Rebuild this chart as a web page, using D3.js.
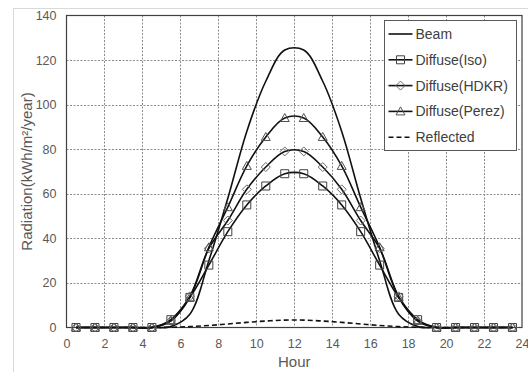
<!DOCTYPE html>
<html>
<head>
<meta charset="utf-8">
<script src="https://cdn.jsdelivr.net/npm/d3@7"></script>
<style>
  body { margin: 0; background: #fff; }
  text { font-family: "Liberation Sans", Arial, sans-serif; }
</style>
</head>
<body>
<svg id="chart"></svg>
<script>
const hours = [0.5, 1.5, 2.5, 3.5, 4.5, 5.5, 6.5, 7.5, 8.5, 9.5, 10.5, 11.5,
  12.5, 13.5, 14.5, 15.5, 16.5, 17.5, 18.5, 19.5, 20.5, 21.5, 22.5, 23.5];
const beam = [0, 0, 0, 0, 0, 0.5, 6, 30, 58, 88, 110.5, 124.5,
  124.5, 110.5, 88, 58, 30, 6, 0.5, 0, 0, 0, 0, 0];
const diffuseIso = [0, 0, 0, 0, 0, 3.5, 13.5, 28, 43, 55, 63.5, 69,
  69, 63.5, 55, 43, 28, 13.5, 3.5, 0, 0, 0, 0, 0];
const diffuseHDKR = [0, 0, 0, 0, 0, 3, 14, 35.5, 48, 62, 72, 79,
  79, 72, 62, 48, 35.5, 14, 3, 0, 0, 0, 0, 0];
const diffusePerez = [0, 0, 0, 0, 0, 3, 13.5, 36, 54, 72.5, 85.5, 94,
  94, 85.5, 72.5, 54, 36, 13.5, 3, 0, 0, 0, 0, 0];
const reflected = [0, 0, 0, 0, 0, 0.1, 0.4, 0.9, 1.6, 2.3, 2.9, 3.3,
  3.3, 2.9, 2.3, 1.6, 0.9, 0.4, 0.1, 0, 0, 0, 0, 0];

const xTicks = [0, 2, 4, 6, 8, 10, 12, 14, 16, 18, 20, 22, 24];
const yTicks = [0, 20, 40, 60, 80, 100, 120, 140];

const seriesNames = ["Beam", "Diffuse(Iso)", "Diffuse(HDKR)", "Diffuse(Perez)", "Reflected"];

const WIDTH = 528;
const HEIGHT = 372;
const margin = { top: 15.5, right: 6, bottom: 44.5, left: 66.5 };

const PLOT_LEFT = margin.left;
const PLOT_RIGHT = WIDTH - margin.right;
const PLOT_TOP = margin.top;
const PLOT_BOTTOM = HEIGHT - margin.bottom;

const INK = "#404040";
const TICK_COLOR = "#595959";

// marker shapes, centred on the point
const MARKERS = {
  square: "M-4,-4h8v8h-8Z",
  diamond: "M0,-4.5L4.5,0L0,4.5L-4.5,0Z",
  triangle: "M0,-4.5L4.5,3.5L-4.5,3.5Z",
};
const MARKER_COLOR = { square: "#404040", diamond: "#6a6a6a", triangle: "#505050" };

const series = [
  { name: seriesNames[0], values: beam, marker: null, dash: null },
  { name: seriesNames[1], values: diffuseIso, marker: "square", dash: null },
  { name: seriesNames[2], values: diffuseHDKR, marker: "diamond", dash: null },
  { name: seriesNames[3], values: diffusePerez, marker: "triangle", dash: null },
  { name: seriesNames[4], values: reflected, marker: null, dash: "5,3" },
];

const svg = d3.select("#chart").attr("width", WIDTH).attr("height", HEIGHT);

// chart area frame
svg.append("rect")
  .attr("x", 13.5).attr("y", 8.5)
  .attr("width", WIDTH).attr("height", HEIGHT)
  .attr("fill", "#fff")
  .attr("stroke", "#d9d9d9");

const xScale = d3.scaleLinear().domain([0, 24]).range([PLOT_LEFT, PLOT_RIGHT]);
const yScale = d3.scaleLinear().domain([0, 140]).range([PLOT_BOTTOM, PLOT_TOP]);

// Grid
svg.append("g")
  .selectAll("line")
  .data(xTicks.slice(1, -1))
  .join("line")
  .attr("x1", (d) => Math.round(xScale(d)) + 0.5)
  .attr("x2", (d) => Math.round(xScale(d)) + 0.5)
  .attr("y1", PLOT_TOP)
  .attr("y2", PLOT_BOTTOM)
  .attr("stroke", "#8c8c8c")
  .attr("stroke-dasharray", "2,1.5");

svg.append("g")
  .selectAll("line")
  .data(yTicks.slice(1, -1))
  .join("line")
  .attr("x1", PLOT_LEFT)
  .attr("x2", PLOT_RIGHT)
  .attr("y1", (d) => Math.round(yScale(d)) + 0.5)
  .attr("y2", (d) => Math.round(yScale(d)) + 0.5)
  .attr("stroke", "#8c8c8c")
  .attr("stroke-dasharray", "2,1.5");

// Axes
const xAxis = d3.axisBottom(xScale).tickValues(xTicks).tickSize(0).tickPadding(12);
const yAxis = d3.axisLeft(yScale).tickValues(yTicks).tickSize(0).tickPadding(10);

const gx = svg.append("g")
  .attr("transform", `translate(0, ${PLOT_BOTTOM})`)
  .call(xAxis);
const gy = svg.append("g")
  .attr("transform", `translate(${PLOT_LEFT}, 0)`)
  .call(yAxis);

[gx, gy].forEach((g) => {
  g.select(".domain").remove();
  g.selectAll("text")
    .attr("fill", TICK_COLOR)
    .style("font-size", "12.5px")
    .style("font-family", "'Liberation Sans', Arial, sans-serif");
});

// plot border
svg.append("rect")
  .attr("x", PLOT_LEFT).attr("y", PLOT_TOP)
  .attr("width", PLOT_RIGHT - PLOT_LEFT)
  .attr("height", PLOT_BOTTOM - PLOT_TOP)
  .attr("fill", "none")
  .attr("stroke", INK)
  .attr("stroke-width", 1.2);

// Axis titles
svg.append("text")
  .attr("x", (PLOT_LEFT + PLOT_RIGHT) / 2)
  .attr("y", 367)
  .attr("text-anchor", "middle")
  .attr("fill", TICK_COLOR)
  .style("font-size", "15px")
  .text("Hour");

svg.append("text")
  .attr("transform", `translate(32, ${(PLOT_TOP + PLOT_BOTTOM) / 2}) rotate(-90)`)
  .attr("text-anchor", "middle")
  .attr("fill", TICK_COLOR)
  .style("font-size", "15px")
  .text("Radiation(kWh/m²/year)");

// Lines
const line = d3.line()
  .x((d, i) => xScale(hours[i]))
  .y((d) => yScale(d))
  .curve(d3.curveCatmullRom);

const plot = svg.append("g");

plot.selectAll(".series-line")
  .data(series)
  .join("path")
  .classed("series-line", true)
  .attr("d", (s) => line(s.values))
  .attr("fill", "none")
  .attr("stroke", "#111")
  .attr("stroke-width", 1.6)
  .attr("stroke-dasharray", (s) => s.dash);

// Markers
series.filter((s) => s.marker).forEach((s) => {
  plot.append("g")
    .selectAll("path")
    .data(s.values)
    .join("path")
    .attr("transform", (d, i) => `translate(${xScale(hours[i])}, ${yScale(d)})`)
    .attr("d", MARKERS[s.marker])
    .attr("fill", "none")
    .attr("stroke", MARKER_COLOR[s.marker])
    .attr("stroke-width", 1);
});

// Legend
const legend = svg.append("g").attr("transform", "translate(384.5, 20.5)");
legend.append("rect")
  .attr("width", 132)
  .attr("height", 130)
  .attr("fill", "#fff")
  .attr("stroke", "#595959");

const items = legend.selectAll(".item")
  .data(series)
  .join("g")
  .classed("item", true)
  .attr("transform", (d, i) => `translate(0, ${13.5 + i * 25.8})`);

items.append("line")
  .attr("x1", 4).attr("x2", 28)
  .attr("stroke", "#111")
  .attr("stroke-width", 1.6)
  .attr("stroke-dasharray", (s) => s.dash);

items.filter((s) => s.marker)
  .append("path")
  .attr("transform", "translate(16, 0)")
  .attr("d", (s) => MARKERS[s.marker])
  .attr("fill", "none")
  .attr("stroke", (s) => MARKER_COLOR[s.marker]);

items.append("text")
  .attr("x", 31)
  .attr("y", 5)
  .attr("fill", INK)
  .style("font-size", "14px")
  .text((s) => s.name);
</script>
</body>
</html>
